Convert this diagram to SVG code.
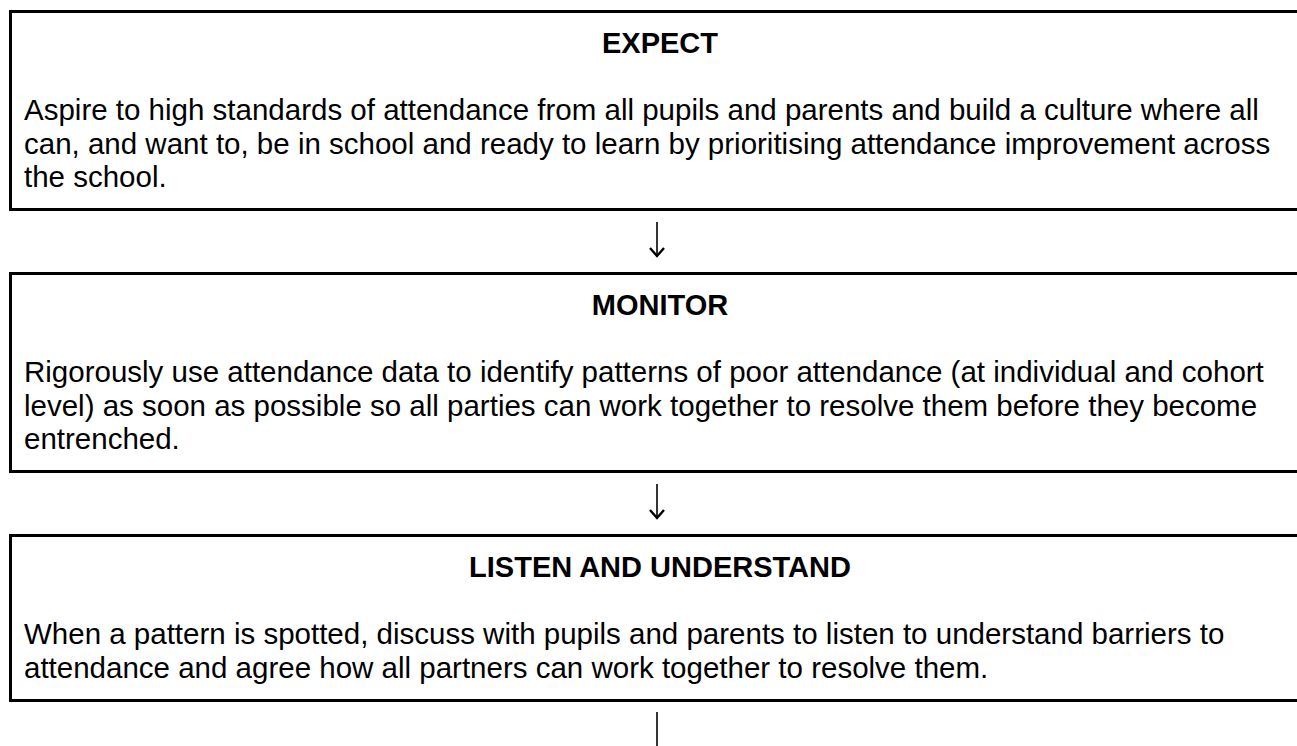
<svg xmlns="http://www.w3.org/2000/svg" width="1297" height="746" viewBox="0 0 1297 746">
<defs>
<style>
.box{fill:#fff;stroke:#000;stroke-width:3}
.title{font-family:"Liberation Sans",Arial,sans-serif;font-size:29px;font-weight:bold;fill:#000;text-anchor:middle}
.body{font-family:"Liberation Sans",Arial,sans-serif;font-size:29.5px;fill:#000}
.arrow{fill:none;stroke:#000;stroke-width:1.6}
.head{fill:none;stroke:#000;stroke-width:2.4;stroke-linejoin:miter}
</style>
</defs>
<rect width="1297" height="746" fill="#fff"/>
<g id="expect">
<rect class="box" x="10.5" y="11.5" width="1300" height="198"/>
<text class="title" x="660" y="53">EXPECT</text>
<text class="body" x="24" y="120">Aspire to high standards of attendance from all pupils and parents and build a culture where all</text>
<text class="body" x="24" y="153.5">can, and want to, be in school and ready to learn by prioritising attendance improvement across</text>
<text class="body" x="24" y="187">the school.</text>
</g>
<g id="monitor">
<rect class="box" x="10.5" y="273.5" width="1300" height="198"/>
<text class="title" x="660" y="315">MONITOR</text>
<text class="body" x="24" y="382">Rigorously use attendance data to identify patterns of poor attendance (at individual and cohort</text>
<text class="body" x="24" y="415.5">level) as soon as possible so all parties can work together to resolve them before they become</text>
<text class="body" x="24" y="449">entrenched.</text>
</g>
<g id="listen">
<rect class="box" x="10.5" y="535.5" width="1300" height="165"/>
<text class="title" x="660" y="577">LISTEN AND UNDERSTAND</text>
<text class="body" x="24" y="644">When a pattern is spotted, discuss with pupils and parents to listen to understand barriers to</text>
<text class="body" x="24" y="677.5">attendance and agree how all partners can work together to resolve them.</text>
</g>
<g id="connectors">
<path class="arrow" d="M657,222V256"/>
<path class="head" d="M650,248L657,256L664,248"/>
<path class="arrow" d="M657,484V518"/>
<path class="head" d="M650,510L657,518L664,510"/>
<path class="arrow" d="M657,712V752"/>
</g>
</svg>
